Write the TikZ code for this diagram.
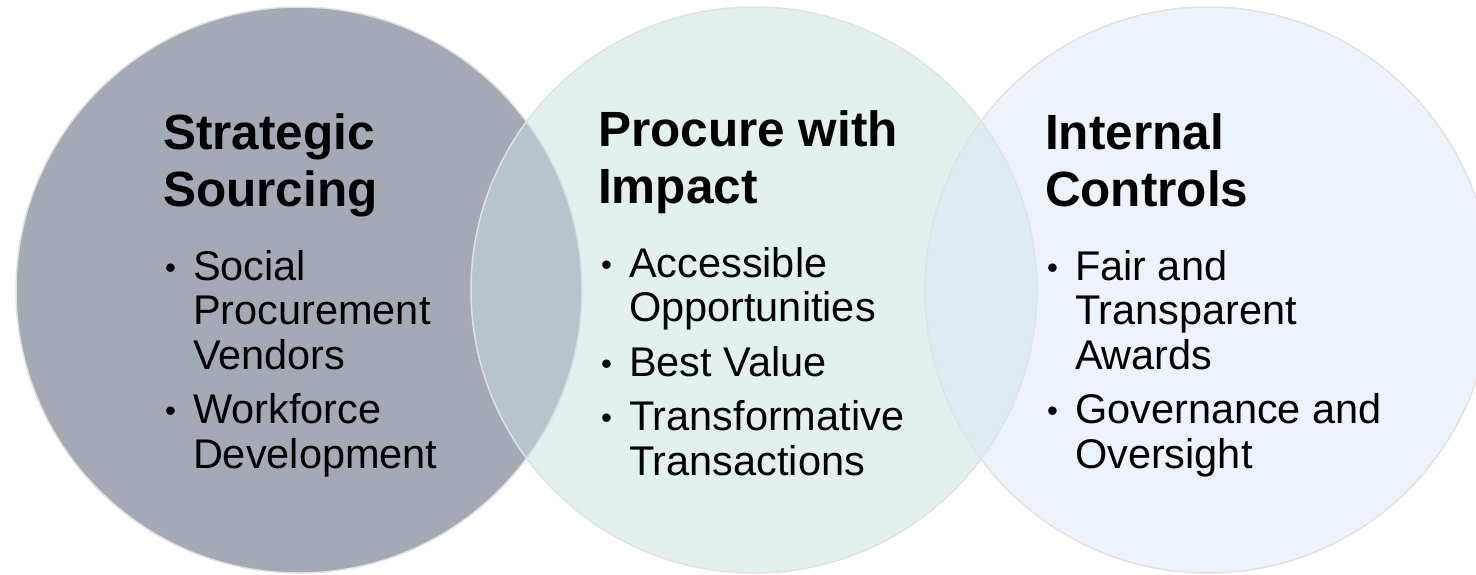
\documentclass[tikz,border=0pt]{standalone}
\usepackage{fontspec}
\setmainfont{Liberation Sans}
\usepackage{tikz}
\usetikzlibrary{shapes}
\definecolor{slate}{HTML}{A3A9B5}
\definecolor{mint}{HTML}{C7E1E1}
\definecolor{sky}{HTML}{D9E7F5}
\definecolor{rim}{HTML}{E2E2E2}
\newcommand{\stack}[1]{\begin{tabular}[t]{@{}l@{}}#1\end{tabular}}
\newcommand{\blist}[1]{\begin{tabular}[t]{@{}l@{}l@{}}#1\end{tabular}}
\newcommand{\bul}{\makebox[28pt][l]{\raisebox{2pt}{\scalebox{.75}{•}}}}

\begin{document}
\begin{tikzpicture}[x=1pt,y=1pt,% sizes below are in px of the slide
			every node/.style={inner sep=0pt,outer sep=0pt},
			ring/.style={circle,minimum size=566pt,draw=rim,line width=1.5pt},
			head/.style={anchor=base west,font=\fontsize{49.5}{57}\selectfont\bfseries},
			items/.style={anchor=base west,font=\fontsize{41.5}{44.5}\selectfont}
		]
		\useasboundingbox (0,0) rectangle (1476,-575);
		% the three circles, later ones see-through
		\node[ring,fill=slate](C1) at (299,-290) {};
		\node[ring,fill=mint,fill opacity=.5](C2) at (754,-290) {};
		\node[ring,fill=sky,fill opacity=.5](C3) at (1208,-290) {};
		% left
		\node[head](H1) at (163,-150) {\stack{Strategic\\Sourcing}};
		\node[items](L1) at (165,-280) {\blist{\bul&Social\\&Procurement\\&Vendors\\[10pt]\bul&Workforce\\&Development}};
		% middle
		\node[head](H2) at (598,-147) {\stack{Procure with\\Impact}};
		\node[items](L2) at (601,-277) {\blist{\bul&Accessible\\&Opportunities\\[10pt]\bul&Best Value\\[10pt]\bul&Transformative\\&Transactions}};
		% right
		\node[head](H3) at (1045,-150) {\stack{Internal\\Controls}};
		\node[items](L3) at (1047,-280) {\blist{\bul&Fair and\\&Transparent\\&Awards\\[10pt]\bul&Governance and\\&Oversight}};
	\end{tikzpicture}
\end{document}
